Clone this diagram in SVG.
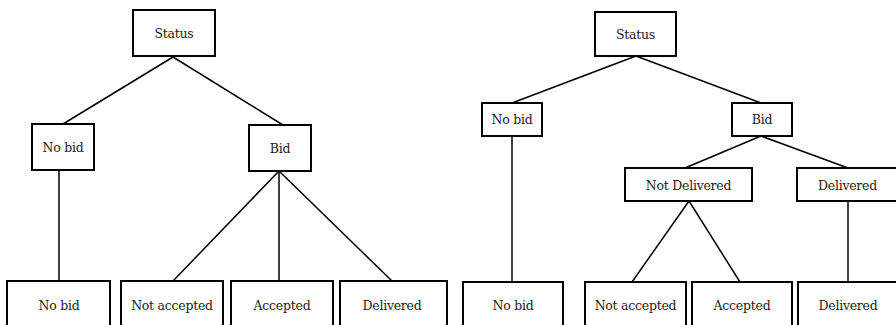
<svg xmlns="http://www.w3.org/2000/svg" width="896" height="325" viewBox="0 0 896 325">
<style>
.box{fill:#fff;stroke:#000;stroke-width:2}
.con line{stroke:#000;stroke-width:1.5}
</style>
<rect width="896" height="325" fill="#fff"/>
<g class="con" id="connectors">
<line x1="173" y1="57" x2="63" y2="124"/>
<line x1="173" y1="57" x2="283" y2="125"/>
<line x1="59" y1="170" x2="59" y2="281"/>
<line x1="279" y1="171" x2="173" y2="281"/>
<line x1="279" y1="171" x2="279" y2="281"/>
<line x1="279" y1="171" x2="392" y2="281"/>
<line x1="636" y1="56" x2="512" y2="103"/>
<line x1="636" y1="56" x2="761" y2="103"/>
<line x1="512" y1="136" x2="512" y2="282"/>
<line x1="761" y1="136" x2="685" y2="168"/>
<line x1="761" y1="136" x2="848" y2="168"/>
<line x1="689" y1="201" x2="632" y2="282"/>
<line x1="689" y1="201" x2="740" y2="282"/>
<line x1="848" y1="201" x2="848" y2="282"/>
</g>
<g font-family="'DejaVu Serif', 'Liberation Serif', serif" font-size="12.5" letter-spacing="-0.25" fill="#222" text-anchor="middle">
<g id="l-status"><rect class="box" x="133" y="10" width="82" height="46"/><text x="174" y="38">Status</text></g>
<g id="l-nobid"><rect class="box" x="32" y="124" width="62" height="46"/><text x="63" y="152">No bid</text></g>
<g id="l-bid"><rect class="box" x="249" y="125" width="62" height="46"/><text x="280" y="153">Bid</text></g>
<g id="l-nobid2"><rect class="box" x="7" y="281" width="103" height="50"/><text x="59" y="310">No bid</text></g>
<g id="l-notacc"><rect class="box" x="121" y="281" width="102" height="50"/><text x="172" y="310">Not accepted</text></g>
<g id="l-acc"><rect class="box" x="231" y="281" width="102" height="50"/><text x="282" y="310">Accepted</text></g>
<g id="l-del"><rect class="box" x="340" y="281" width="107" height="50"/><text x="392" y="310">Delivered</text></g>
<g id="r-status"><rect class="box" x="595" y="12" width="81" height="44"/><text x="635.5" y="39">Status</text></g>
<g id="r-nobid"><rect class="box" x="482" y="103" width="60" height="33"/><text x="512" y="124">No bid</text></g>
<g id="r-bid"><rect class="box" x="732" y="103" width="60" height="33"/><text x="762" y="124">Bid</text></g>
<g id="r-notdel"><rect class="box" x="625" y="168" width="127" height="33"/><text x="688.5" y="190">Not Delivered</text></g>
<g id="r-del"><rect class="box" x="797" y="168" width="102" height="33"/><text x="847.5" y="190">Delivered</text></g>
<g id="r-nobid2"><rect class="box" x="463" y="282" width="100" height="50"/><text x="513" y="310">No bid</text></g>
<g id="r-notacc"><rect class="box" x="585" y="282" width="101" height="50"/><text x="635.5" y="310">Not accepted</text></g>
<g id="r-acc"><rect class="box" x="692" y="282" width="100" height="50"/><text x="742" y="310">Accepted</text></g>
<g id="r-del2"><rect class="box" x="798" y="282" width="101" height="50"/><text x="848" y="310">Delivered</text></g>
</g>
</svg>
